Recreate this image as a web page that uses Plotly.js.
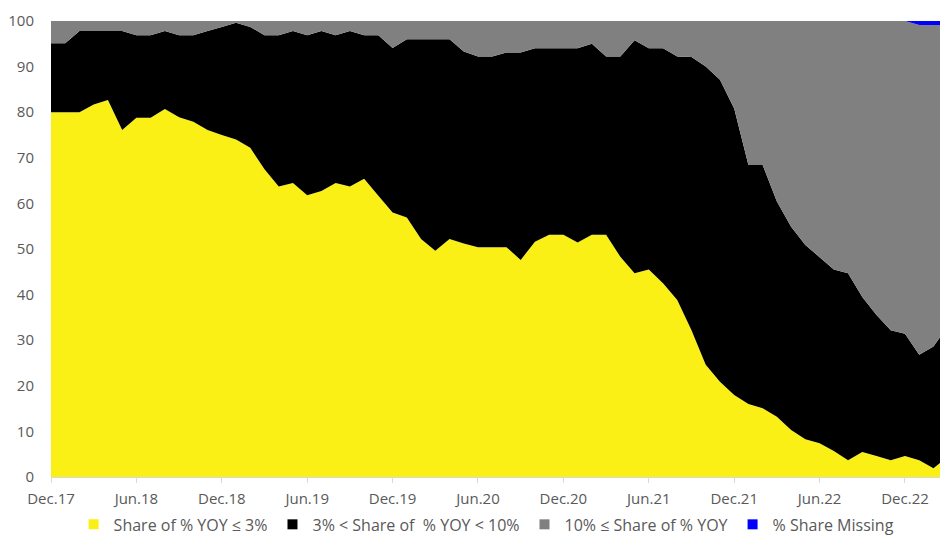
<!DOCTYPE html>
<html>
<head>
<meta charset="utf-8">
<script src="https://cdn.plot.ly/plotly-3.0.1.min.js"></script>
<style>html,body{margin:0;padding:0;background:#fff;}#chart{width:940px;height:539px;}</style>
</head>
<body>
<div id="chart"></div>
<script>
// Monthly categories Dec.17 .. Mar.23
const months = ['Dec.17','Jan.18','Feb.18','Mar.18','Apr.18','May.18','Jun.18','Jul.18','Aug.18','Sep.18','Oct.18','Nov.18',
'Dec.18','Jan.19','Feb.19','Mar.19','Apr.19','May.19','Jun.19','Jul.19','Aug.19','Sep.19','Oct.19','Nov.19',
'Dec.19','Jan.20','Feb.20','Mar.20','Apr.20','May.20','Jun.20','Jul.20','Aug.20','Sep.20','Oct.20','Nov.20',
'Dec.20','Jan.21','Feb.21','Mar.21','Apr.21','May.21','Jun.21','Jul.21','Aug.21','Sep.21','Oct.21','Nov.21',
'Dec.21','Jan.22','Feb.22','Mar.22','Apr.22','May.22','Jun.22','Jul.22','Aug.22','Sep.22','Oct.22','Nov.22',
'Dec.22','Jan.23','Feb.23','Mar.23'];

// Share of % YOY <= 3%
const shareLow = [80,80,80,81.7,82.7,76.1,78.8,78.8,80.7,78.9,77.9,76.1,
75.0,74.0,72.2,67.5,63.7,64.5,61.8,62.7,64.5,63.7,65.4,61.7,
58.0,56.9,52.2,49.6,52.2,51.2,50.4,50.4,50.4,47.6,51.6,53.1,
53.1,51.4,53.1,53.1,48.3,44.7,45.5,42.5,38.8,32.2,24.6,20.9,
18.0,16.0,15.1,13.2,10.3,8.3,7.4,5.7,3.7,5.5,4.6,3.7,
4.6,3.7,1.9,4.4];

// 3% < Share of % YOY < 10%
const shareMid = [15.1,15.1,17.8,16.1,15.1,21.7,18.1,18.1,17.1,18.0,19.0,21.7,
23.7,25.6,26.5,29.4,33.2,33.3,35.1,35.1,32.4,34.1,31.5,35.2,
36.1,39.1,43.8,46.4,43.8,42.1,41.8,41.8,42.7,45.5,42.4,40.9,
40.9,42.6,41.9,39.1,43.9,51.1,48.5,51.5,53.4,59.9,65.4,66.2,
62.8,52.4,53.3,47.2,44.6,42.6,40.8,39.8,41.0,34.0,30.9,28.5,
26.8,23.1,26.7,28.6];

// % Share Missing
const shareMissing = [0,0,0,0,0,0,0,0,0,0,0,0,
0,0,0,0,0,0,0,0,0,0,0,0,
0,0,0,0,0,0,0,0,0,0,0,0,
0,0,0,0,0,0,0,0,0,0,0,0,
0,0,0,0,0,0,0,0,0,0,0,0,
0,0.9,0.9,0.9];

// 10% <= Share of % YOY (remainder)
const shareHigh = months.map((m,i) => Math.max(0, +(100 - shareLow[i] - shareMid[i] - shareMissing[i]).toFixed(1)));

const seriesNames = ['Share of % YOY \u2264 3%','3% < Share of  % YOY < 10%','10% \u2264 Share of % YOY','% Share Missing'];
const seriesColors = ['#FAF015','#000000','#808080','#0000FF'];
const seriesData = [shareLow, shareMid, shareHigh, shareMissing];

const tickLabels = months.filter((m,i) => i % 6 === 0 && i <= 60);

const traces = [];
seriesData.forEach((vals, k) => {
  traces.push({
    type: 'scatter', x: months, y: vals, stackgroup: 'one', mode: 'none',
    fillcolor: seriesColors[k], line: {width: 0}, name: seriesNames[k],
    showlegend: false, hoverinfo: 'skip'
  });
});
seriesData.forEach((vals, k) => {
  traces.push({
    type: 'scatter', x: [null], y: [null], mode: 'markers', name: seriesNames[k],
    marker: {symbol: 'square', size: 10, color: seriesColors[k]}, showlegend: true
  });
});

const fontFam = '"Open Sans", "Noto Sans", sans-serif';
const layout = {
  width: 940, height: 539,
  margin: {l: 51, r: 0, t: 21, b: 62, pad: 0, autoexpand: false},
  paper_bgcolor: '#ffffff', plot_bgcolor: '#ffffff',
  font: {family: fontFam, size: 15, color: '#595959'},
  showlegend: true,
  legend: {orientation: 'h', x: 0.49, xanchor: 'center', y: -0.104, yanchor: 'middle',
           font: {family: fontFam, size: 16, color: '#595959'}, traceorder: 'normal',
           itemwidth: 30, bgcolor: 'rgba(0,0,0,0)'},
  xaxis: {type: 'category', categoryorder: 'array', categoryarray: months,
          range: [0, 62.46], tickmode: 'array', tickvals: tickLabels, ticktext: tickLabels,
          showgrid: false, zeroline: false, showline: true, linecolor: '#d9d9d9', linewidth: 1,
          ticks: 'outside', ticklen: 5, tickcolor: '#d9d9d9', tickwidth: 1,
          tickangle: 0, ticklabelstandoff: 3, fixedrange: true},
  yaxis: {range: [0, 100], dtick: 10, tick0: 0, showgrid: false, zeroline: false,
          showline: false, ticks: '', ticklabelstandoff: 16, fixedrange: true}
};

Plotly.newPlot('chart', traces, layout, {displayModeBar: false, staticPlot: true});
</script>
</body>
</html>
